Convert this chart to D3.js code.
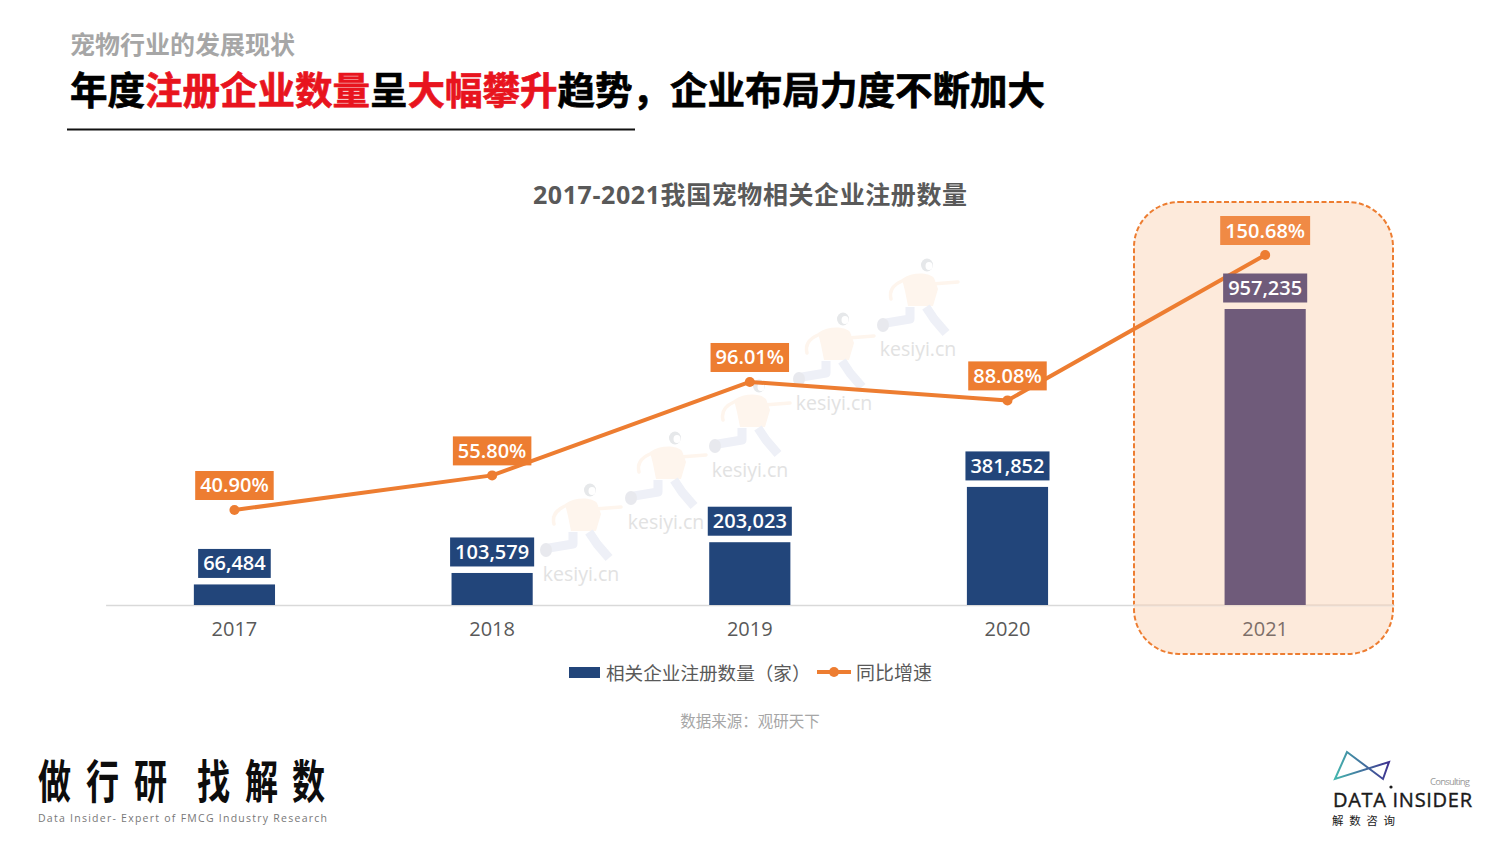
<!DOCTYPE html>
<html lang="zh">
<head>
<meta charset="utf-8">
<script src="https://cdn.jsdelivr.net/npm/d3@7/dist/d3.min.js"></script>
<style>
html,body{margin:0;padding:0;background:#fff;overflow:hidden}
svg{display:block}
text{font-family:"Open Sans","Noto Sans CJK SC",sans-serif}
.cjk{font-family:"Noto Sans CJK SC",sans-serif}
</style>
</head>
<body>
<svg id="c" width="1500" height="844"></svg>
<script>
const years = ["2017","2018","2019","2020","2021"];
const companies = [66484,103579,203023,381852,957235];
const growth = [40.90,55.80,96.01,88.08,150.68];
const highlightYear = "2021";
const titleParts = [["年度",0],["注册企业数量",1],["呈",0],["大幅攀升",1],["趋势，企业布局力度不断加大",0]];
const sloganChars = ["做","行","研","找","解","数"];

const NAVY="#22457a", ORANGE="#ed7d31", PURPLE="#6f5b7a", TXT="#595959";
const svg=d3.select("#c");
svg.append("rect").attr("width",1500).attr("height",844).attr("fill","#fff");

// Headings
svg.append("text").attr("class","cjk").attr("x",70).attr("y",54).attr("font-size",25).attr("font-weight",700)
  .attr("fill","#a6a6a6").text("宠物行业的发展现状");
const t=svg.append("text").attr("class","cjk").attr("x",70).attr("y",104).attr("font-size",37.5).attr("font-weight",700)
  .attr("stroke-width",0.7);
titleParts.forEach(([s,red])=>t.append("tspan").attr("fill",red?"#e8141e":"#000").attr("stroke",red?"#e8141e":"#000").text(s));
svg.append("line").attr("x1",67).attr("x2",635).attr("y1",129.5).attr("y2",129.5).attr("stroke","#111").attr("stroke-width",2);
svg.append("text").attr("x",533).attr("y",204).attr("font-size",25).attr("font-weight",700)
  .attr("fill",TXT).attr("textLength",434).attr("lengthAdjust","spacing").text("2017-2021我国宠物相关企业注册数量");

// Scales
const x=d3.scaleBand().domain(years).range([105.6,1394]).paddingInner(0.685).paddingOuter(0.3425);
const yBar=d3.scaleLinear().domain([0,d3.max(companies)]).range([605,309]);
const yLine=d3.scaleLinear().domain([0,d3.max(growth)]).range([605,255]);
const cx=d=>x(d)+x.bandwidth()/2;
const isH=d=>d===highlightYear;

// Watermarks
const marks=[[581,574],[666,522],[750,470],[834,403],[918,349]];
const wm=svg.append("g");
marks.forEach(([mx,my])=>{
  const g=wm.append("g").attr("transform",`translate(${mx},${my})`);
  g.append("path").attr("d","M-16,-70 C-6,-77 10,-77 16,-71 L20,-60 L15,-43 L-10,-43 L-13,-58 Z").attr("fill","#fef5ed");
  g.append("path").attr("d","M14,-65 L40,-67 M-16,-68 C-25,-64 -29,-58 -27,-50").attr("fill","none").attr("stroke","#fef5ed").attr("stroke-width",3.5).attr("stroke-linecap","round");
  g.append("path").attr("d","M-8,-42 L-8,-30 L-32,-26 M8,-42 L16,-30 L28,-16").attr("fill","none").attr("stroke","#eef0f7").attr("stroke-width",9).attr("stroke-linejoin","round");
  g.append("ellipse").attr("cx",-35).attr("cy",-24).attr("rx",6).attr("ry",7).attr("fill","#e8e9ee");
  g.append("ellipse").attr("cx",9).attr("cy",-84).attr("rx",6).attr("ry",6.5).attr("fill","#e6e8ea");
  g.append("ellipse").attr("cx",11).attr("cy",-83).attr("rx",3.5).attr("ry",4).attr("fill","#fff");
  g.append("text").attr("text-anchor","middle").attr("y",7).attr("font-size",19.5).attr("fill","#e2e2e2").text("kesiyi.cn");
});

// Highlight panel
svg.append("rect").attr("x",1134).attr("y",202).attr("width",259).attr("height",452).attr("rx",45).attr("ry",45)
  .attr("fill","#fdeadb").attr("stroke",ORANGE).attr("stroke-width",2).attr("stroke-dasharray","5 2.5");

// Axis
const ax=svg.append("g").attr("transform","translate(0,605)").call(d3.axisBottom(x).tickSize(0).tickPadding(17));
ax.select(".domain").attr("stroke","#d9d9d9").attr("stroke-width",1.5);
ax.selectAll("text").attr("font-size",20).attr("fill",d=>isH(d)?"#7d6f69":TXT).attr("font-family",'"Open Sans",sans-serif');
svg.append("line").attr("x1",x(highlightYear)-91).attr("x2",1393).attr("y1",605).attr("y2",605).attr("stroke","#efd9c9").attr("stroke-width",1.5);

// Bars
const data=years.map((y,i)=>({y,v:companies[i],g:growth[i]}));
svg.append("g").selectAll("rect").data(data).join("rect")
  .attr("x",d=>x(d.y)).attr("width",x.bandwidth())
  .attr("y",d=>yBar(d.v)).attr("height",d=>yBar(0)-yBar(d.v))
  .attr("fill",d=>isH(d.y)?PURPLE:NAVY);

// Line
const line=d3.line().x(d=>cx(d.y)).y(d=>yLine(d.g));
svg.append("path").datum(data).attr("d",line).attr("fill","none").attr("stroke",ORANGE).attr("stroke-width",4).attr("stroke-linejoin","round");
svg.append("g").selectAll("circle").data(data).join("circle")
  .attr("cx",d=>cx(d.y)).attr("cy",d=>yLine(d.g)).attr("r",5).attr("fill",ORANGE);

// Labels
function label(txt,px,py,fill){
  const g=svg.append("g");
  const r=g.append("rect").attr("fill",fill);
  const tx=g.append("text").attr("x",px).attr("y",py+7).attr("text-anchor","middle").attr("font-size",20)
    .attr("font-weight",600).attr("fill","#fff").text(txt);
  const w=tx.node().getComputedTextLength()+10;
  r.attr("x",px-w/2).attr("width",w).attr("y",py-14.5).attr("height",29);
}
data.forEach(d=>{
  label(d3.format(",")(d.v),cx(d.y),yBar(d.v)-21,isH(d.y)?PURPLE:NAVY);
  label(d.g.toFixed(2)+"%",cx(d.y),yLine(d.g)-24.5,isH(d.y)?"#f08a45":ORANGE);
});

// Legend
svg.append("rect").attr("x",569).attr("y",667).attr("width",31).attr("height",11).attr("fill",NAVY);
svg.append("text").attr("class","cjk").attr("x",606).attr("y",680).attr("font-size",18.6).attr("fill",TXT).text("相关企业注册数量（家）");
svg.append("line").attr("x1",817).attr("x2",851).attr("y1",672).attr("y2",672).attr("stroke",ORANGE).attr("stroke-width",4);
svg.append("circle").attr("cx",834).attr("cy",672).attr("r",5).attr("fill",ORANGE);
svg.append("text").attr("class","cjk").attr("x",856).attr("y",680).attr("font-size",19).attr("fill",TXT).text("同比增速");
svg.append("text").attr("class","cjk").attr("x",750).attr("y",727).attr("text-anchor","middle").attr("font-size",15.5).attr("fill","#a6a6a6").text("数据来源：观研天下");

// Footer left: narrow, widely spaced slogan
const sx=0.72, sloganX=[38,86,134,197,245,292];
svg.append("text").attr("class","cjk").attr("transform",`scale(${sx},1)`).attr("y",798).attr("font-size",46).attr("font-weight",700)
  .attr("fill","#0d0d0d").attr("x",sloganX.map(v=>v/sx).join(" ")).text(sloganChars.join(""));
svg.append("text").attr("x",38).attr("y",822).attr("font-size",10.5).attr("fill","#777")
  .attr("textLength",289).attr("lengthAdjust","spacing").text("Data Insider- Expert of FMCG Industry Research");

// Footer right logo
const defs=svg.append("defs");
const gr=defs.append("linearGradient").attr("id","lg").attr("gradientUnits","userSpaceOnUse").attr("x1",1335).attr("x2",1390).attr("y1",770).attr("y2",765);
gr.append("stop").attr("offset",0).attr("stop-color","#45b5ae");
gr.append("stop").attr("offset",1).attr("stop-color","#3f2f8f");
svg.append("path").attr("d","M1347,752 L1335,779 L1389,762 L1383,779 Z").attr("fill","none").attr("stroke","url(#lg)").attr("stroke-width",2);
svg.append("text").attr("x",1430).attr("y",784.5).attr("font-size",9.5).attr("fill","#999").attr("textLength",40).text("Consulting");
svg.append("text").attr("x",1333).attr("y",807).attr("font-size",20).attr("font-weight",400).attr("fill","#1a1a1a")
  .attr("stroke","#1a1a1a").attr("stroke-width",0.4)
  .attr("font-family","Lato,sans-serif").attr("textLength",139).attr("lengthAdjust","spacing").text("DATA INSIDER");
svg.append("circle").attr("cx",1391).attr("cy",787).attr("r",1.6).attr("fill","#1a1a1a");
svg.append("text").attr("class","cjk").attr("x",1332).attr("y",825).attr("font-size",11.5).attr("fill","#1a1a1a")
  .attr("textLength",63).attr("lengthAdjust","spacing").text("解数咨询");
</script>
</body>
</html>
